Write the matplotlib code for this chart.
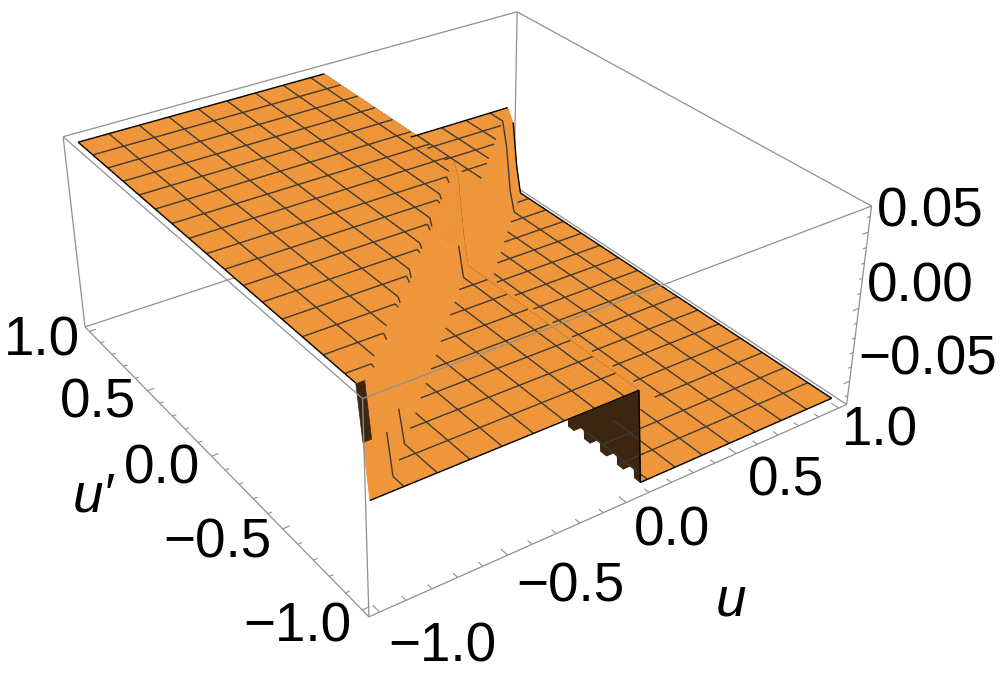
"""Stepped surface over (u, u') with a mesh, redrawn from the reference picture."""
import matplotlib

matplotlib.use("Agg")
import matplotlib.pyplot as plt
import numpy as np
from mpl_toolkits.mplot3d.art3d import Line3DCollection

plt.rcParams["font.family"] = ["Liberation Sans", "DejaVu Sans"]

ORANGE = "#F0963A"
DARK = "#3D2610"
MESH = "#3F3A32"
BOX = "#909090"

# plateau heights
z_high = 0.0637
z_mid = 0.0
z_low = -0.0632

BOX_UV = 1.04
BOX_Z = 0.0665

# sample nodes along u and along u'
u_nodes = [-1 + i / 32 for i in range(65)]
v_nodes = [-1 + i / 32 for i in range(65)]

# u' where the diagonal wall starts, one value per u node
diag_edge = [
    -1.00, -1.00, -0.97, -0.96, -0.93, -0.89, -0.86, -0.83, -0.80, -0.77, -0.74, -0.71, -0.68,
    -0.64, -0.61, -0.58, -0.55, -0.52, -0.49, -0.46, -0.43, -0.39, -0.36, -0.33, -0.30, -0.27,
    -0.24, -0.21, -0.18, -0.14, -0.11, -0.08, -0.05, -0.02, 0.01, 0.04, 0.08, 0.11, 0.14, 0.17,
    0.20, 0.23, 0.26, 0.29, 0.33, 0.36, 0.39, 0.42, 0.45, 0.48, 0.51, 0.54, 0.58, 0.61, 0.64,
    0.67, 0.70, 0.73, 0.76, 0.79, 0.83, 0.86, 0.89, 0.92, 0.95,
]
diag_width = 0.0625

# u where the second wall starts and ends, one value per u' node
wall_top = [0.0625] * 65
wall_foot = [0.09375, 0.09375, 0.125] * 6 + [0.09375] * 47

mesh_every = 4  # 15 inner mesh lines
# mesh lines along u' that stay visible on the walls
wall_line_u = [-0.875, -0.75, 0.0, 0.875]
STUB = 0.35  # the other lines only hook this far over the wall's edge

major_ticks = [-1.0, -0.5, 0.0, 0.5, 1.0]
minor_ticks = [-0.9, -0.8, -0.7, -0.6, -0.4, -0.3, -0.2, -0.1, 0.1, 0.2, 0.3, 0.4, 0.6, 0.7, 0.8, 0.9]
z_major = [-0.05, 0.0, 0.05]
z_minor = [-0.06, -0.04, -0.03, -0.02, -0.01, 0.01, 0.02, 0.03, 0.04, 0.06]

u_labels = [("\u22121.0", 442, 648), ("\u22120.5", 570, 588), ("0.0", 672, 532), ("0.5", 786, 482), ("1.0", 880, 432)]
v_labels = [("1.0", 42, 342), ("0.5", 98, 403), ("0.0", 162, 470), ("\u22120.5", 217, 543), ("\u22121.0", 297, 628)]
z_labels = [("0.05", 930, 212), ("0.00", 920, 288), ("\u22120.05", 928, 360)]

# how far a point slides in (u, u') per unit of box height when seen from the camera
OCCLUSION_SHIFT = (-0.82, -0.78)


def build_surface():
    u = np.array(u_nodes)
    v = np.array(v_nodes)
    top = np.array(wall_top)[:, None]
    foot = np.array(wall_foot)[:, None]
    uu, vv = np.meshgrid(u, v)
    left = np.clip((foot - uu) / (foot - top), 0, 1)
    above = np.clip((vv - np.array(diag_edge)[None, :]) / diag_width, 0, 1)
    return uu, vv, z_low + left * (z_mid - z_low) + above * (z_high - z_mid)


def cell_colours(zz):
    orange = matplotlib.colors.to_rgba(ORANGE)
    dark = matplotlib.colors.to_rgba(DARK)
    colours = np.empty(zz.shape + (4,))
    colours[:] = orange
    for j in range(len(v_nodes) - 1):
        for i in range(len(u_nodes) - 1):
            cell = zz[j : j + 2, i : i + 2]
            if np.ptp(cell) < 1e-6:
                continue
            in_wall = u_nodes[i] >= wall_top[j] - 1e-9 and u_nodes[i + 1] <= max(wall_foot[j], wall_foot[j + 1]) + 1e-9
            # the small back-lit wedge at the left corner sits on the upper half of the wall
            if in_wall or (i == 0 and j == 1):
                colours[j, i] = dark
    return colours


def hidden(zz, i, j):
    z = zz[j, i]
    for level in (z_mid, z_high):
        if z >= level - 1e-6:
            continue
        frac = (level - z) / (2 * BOX_Z)
        ii = int(round(i + OCCLUSION_SHIFT[0] * frac * 32))
        jj = int(round(j + OCCLUSION_SHIFT[1] * frac * 32))
        if 0 <= ii < zz.shape[1] and 0 <= jj < zz.shape[0] and zz[jj, ii] >= level - 1e-6:
            return True
    return False


def is_plateau(z):
    return min(abs(z - z_high), abs(z - z_mid), abs(z - z_low)) < 1e-6


def stub(a, b):
    # short hook from the higher, plateau end of a wall segment
    a, b = (a, b) if a[2] > b[2] else (b, a)
    if not is_plateau(a[2]) or is_plateau(b[2]):
        return None
    return [a, tuple(a[k] + STUB * (b[k] - a[k]) for k in range(3))]


def mesh_segments(zz):
    inner = range(mesh_every, len(u_nodes) - 1, mesh_every)
    segs = []
    for j in inner:
        for i in range(len(u_nodes) - 1):
            a = (u_nodes[i], v_nodes[j], zz[j, i])
            b = (u_nodes[i + 1], v_nodes[j], zz[j, i + 1])
            if abs(a[2] - b[2]) < 1e-6:
                if not (hidden(zz, i, j) or hidden(zz, i + 1, j)):
                    segs.append([a, b])
            elif u_nodes[i + 1] < wall_top[j] or u_nodes[i] > wall_foot[j]:
                upper = i if a[2] > b[2] else i + 1
                hook = stub(a, b)
                if hook and not hidden(zz, upper, j):
                    segs.append(hook)
    for i in inner:
        for j in range(len(v_nodes) - 1):
            a = (u_nodes[i], v_nodes[j], zz[j, i])
            b = (u_nodes[i], v_nodes[j + 1], zz[j + 1, i])
            if abs(a[2] - b[2]) < 1e-6 or u_nodes[i] in wall_line_u:
                if not (hidden(zz, i, j) or hidden(zz, i, j + 1)):
                    segs.append([a, b])
            else:
                upper = j if a[2] > b[2] else j + 1
                hook = stub(a, b)
                if hook and not hidden(zz, i, upper):
                    segs.append(hook)
    return segs


def boundary_segments(zz):
    last = len(u_nodes) - 1
    segs = []
    for j in (0, last):
        for i in range(last):
            if hidden(zz, i, j) or hidden(zz, i + 1, j):
                continue
            # the wall at u' = 1 faces away and has no outline
            if j == last and abs(zz[j, i] - zz[j, i + 1]) > 1e-6:
                continue
            segs.append([(u_nodes[i], v_nodes[j], zz[j, i]), (u_nodes[i + 1], v_nodes[j], zz[j, i + 1])])
    for i in (0, last):
        for j in range(last):
            if hidden(zz, i, j) or hidden(zz, i, j + 1):
                continue
            if i == 0 and j < 2:
                continue
            segs.append([(u_nodes[i], v_nodes[j], zz[j, i]), (u_nodes[i], v_nodes[j + 1], zz[j + 1, i])])
    return segs


def draw_box(ax):
    b, t = BOX_UV, BOX_Z
    back = [
        [(-b, b, -t), (b, b, -t)], [(b, b, -t), (b, -b, -t)], [(b, b, -t), (b, b, t)],
        [(-b, b, t), (b, b, t)], [(b, b, t), (b, -b, t)],
    ]
    front = [
        [(-b, -b, -t), (b, -b, -t)], [(-b, -b, -t), (-b, b, -t)], [(-b, -b, -t), (-b, -b, t)],
        [(b, -b, -t), (b, -b, t)], [(-b, b, -t), (-b, b, t)],
        [(-b, -b, t), (b, -b, t)], [(-b, -b, t), (-b, b, t)],
    ]
    ax.add_collection3d(Line3DCollection(back, colors=BOX, linewidths=0.9, zorder=1, clip_on=False))
    ax.add_collection3d(Line3DCollection(front, colors=BOX, linewidths=0.9, zorder=5, clip_on=False))


def draw_ticks(ax):
    b, t = BOX_UV, BOX_Z
    ticks = []
    for val, du, dv in [(x, 0.04, 0.028) for x in major_ticks] + [(x, 0.025, 0.016) for x in minor_ticks]:
        ticks.append([(val, -b, -t), (val, -b + du, -t)])
        ticks.append([(-b, val, -t), (-b + dv, val, -t)])
    for val, dz in [(x, 0.03) for x in z_major] + [(x, 0.016) for x in z_minor]:
        ticks.append([(b, -b, val), (b - dz, -b, val)])
    ax.add_collection3d(Line3DCollection(ticks, colors=BOX, linewidths=0.8, zorder=5, clip_on=False))


def main():
    fig = plt.figure(figsize=(10.04, 6.76), dpi=100)
    ax = fig.add_axes([41 / 1004, -7.06 / 676, 803.9 / 1004, 803.9 / 676], projection="3d", computed_zorder=False)
    ax.set_xlim(-BOX_UV, BOX_UV)
    ax.set_ylim(-BOX_UV, BOX_UV)
    ax.set_zlim(-BOX_Z, BOX_Z)
    ax.view_init(elev=30.53, azim=-124.51, roll=0)
    ax.set_proj_type("persp", focal_length=0.4424)
    ax.set_box_aspect((1, 1, 0.4))
    ax.set_axis_off()

    uu, vv, zz = build_surface()
    draw_box(ax)
    ax.plot_surface(
        uu, vv, zz, rstride=1, cstride=1, facecolors=cell_colours(zz), shade=False, linewidth=0.5, zorder=2
    )

    ax.add_collection3d(Line3DCollection(mesh_segments(zz), colors=MESH, linewidths=1.0, zorder=3))
    ax.add_collection3d(Line3DCollection(boundary_segments(zz), colors="black", linewidths=1.0, zorder=4))
    draw_ticks(ax)

    for text, x, y in u_labels + v_labels + z_labels:
        fig.text(x / 1004, 1 - y / 676, text, fontsize=39.5, ha="center", va="center", color="black")
    fig.text(93 / 1004, 1 - 498 / 676, "u\u2032", fontsize=39.5, style="italic", ha="center", va="center")
    fig.text(731 / 1004, 1 - 602 / 676, "u", fontsize=39.5, style="italic", ha="center", va="center")

    fig.savefig("out.png", dpi=100, facecolor="white")
    plt.close(fig)


if __name__ == "__main__":
    main()
